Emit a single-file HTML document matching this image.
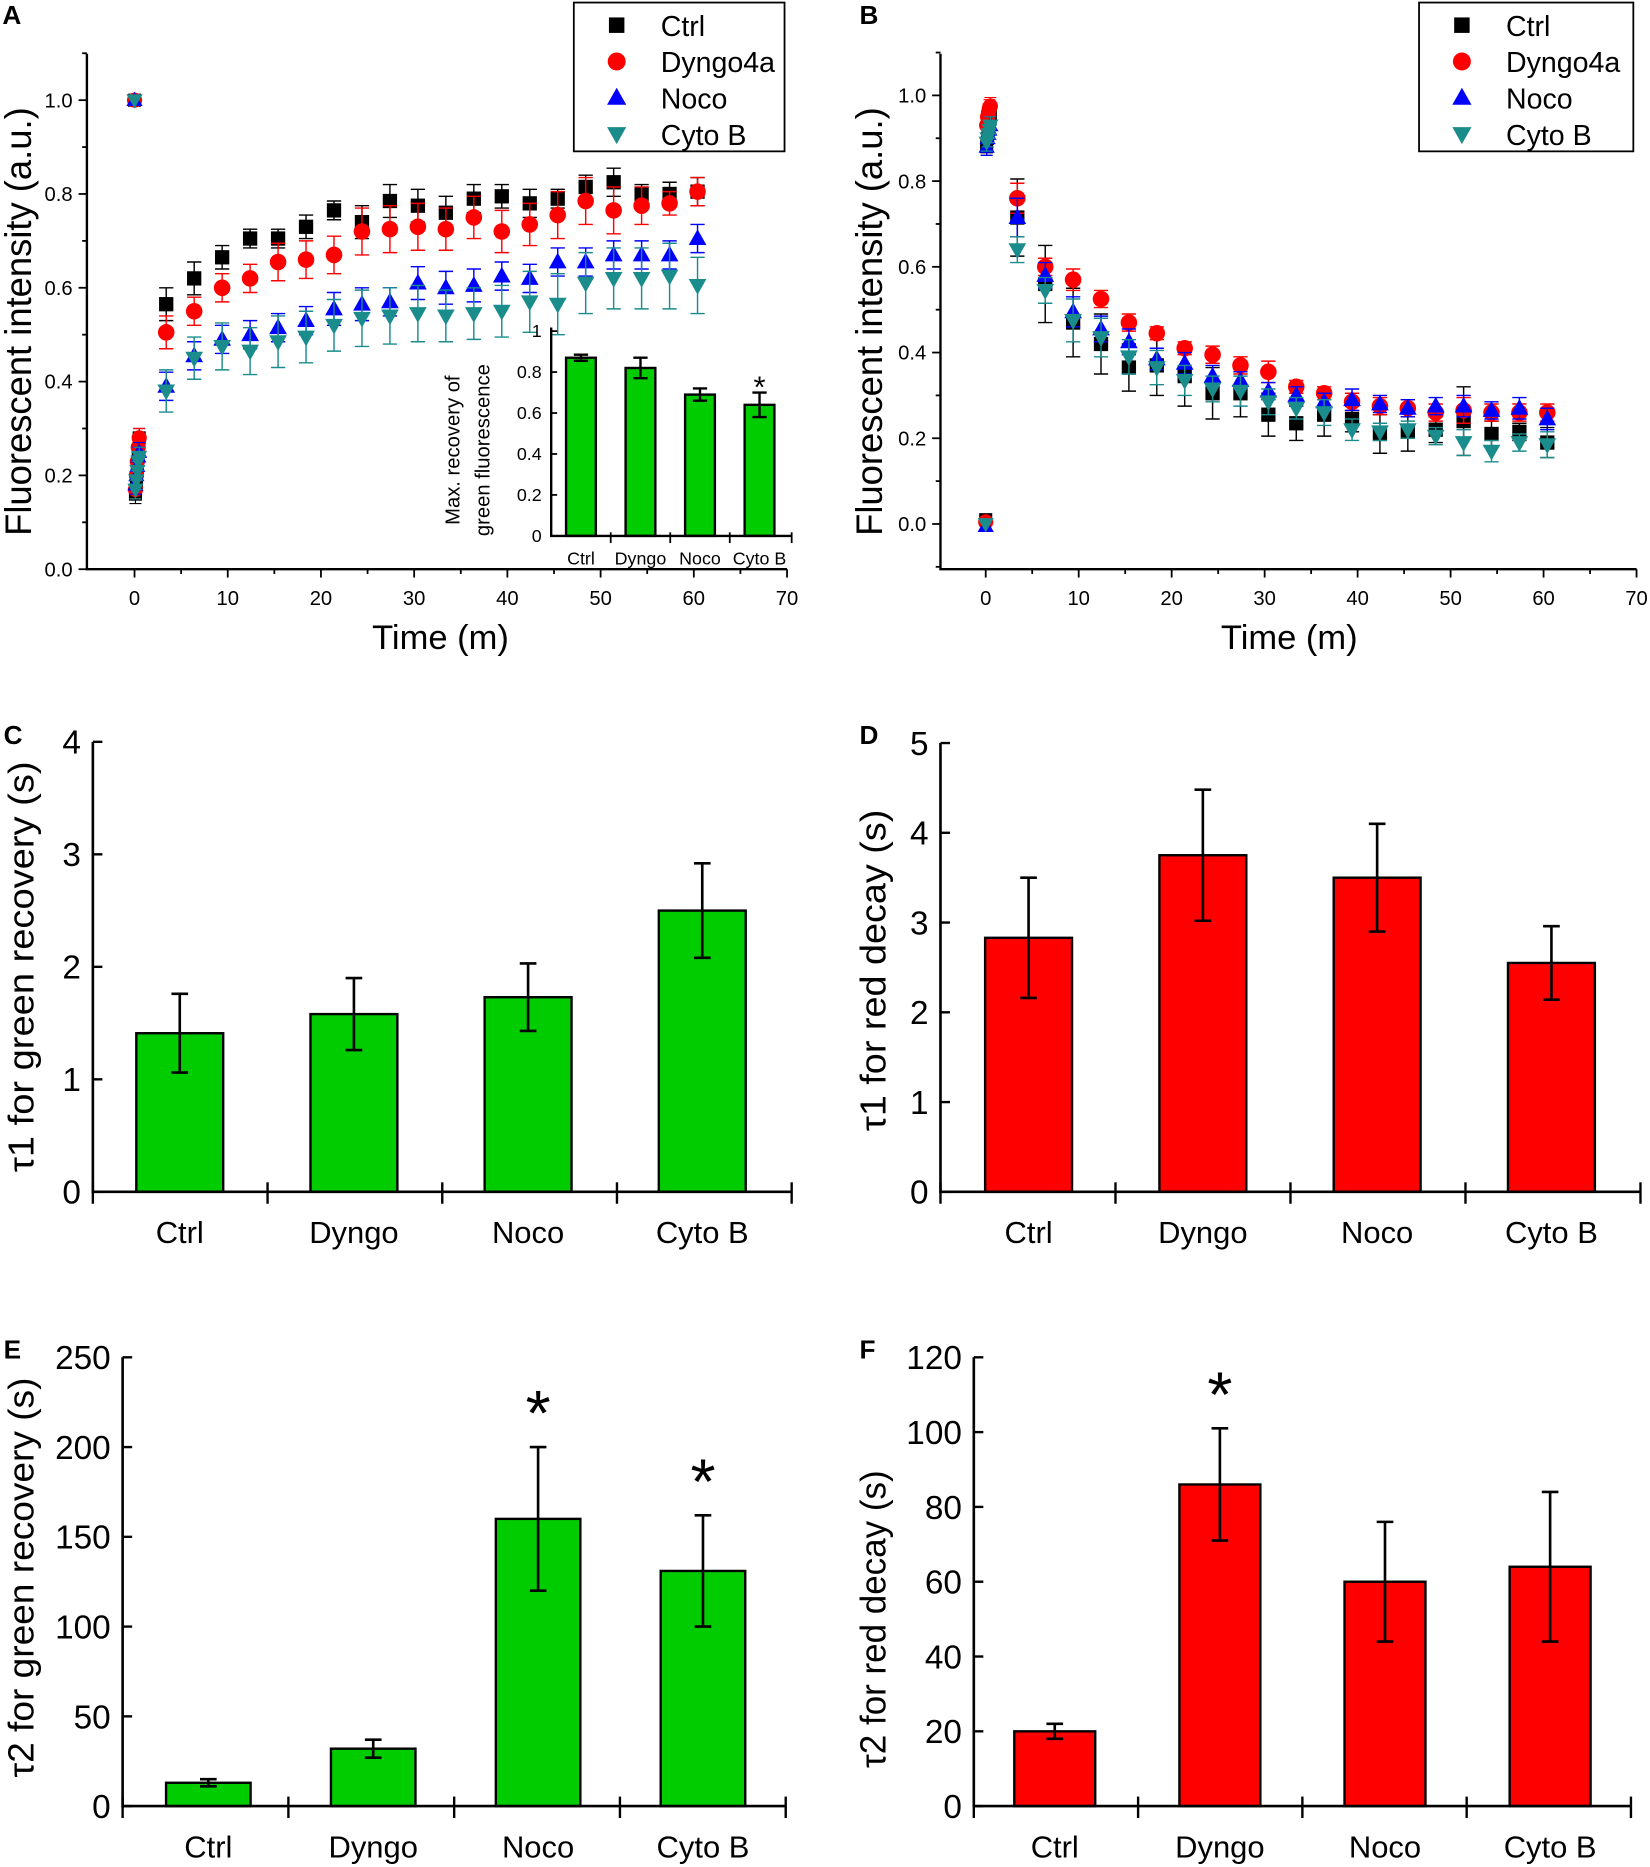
<!DOCTYPE html>
<html><head><meta charset="utf-8"><style>
html,body{margin:0;padding:0;background:#fff;}
svg{display:block;font-family:"Liberation Sans Narrow","Liberation Sans",sans-serif;}
.big{font-family:"Liberation Sans",sans-serif;}
</style></head><body>
<svg id="fig" width="1650" height="1867" viewBox="0 0 1386 1568" xmlns="http://www.w3.org/2000/svg"></svg>
<script>
// ---------- data ----------
const seriesNames = ["Ctrl","Dyngo4a","Noco","Cyto B"];
const timesLate = [3.4,6.4,9.4,12.4,15.4,18.4,21.4,24.4,27.4,30.4,33.4,36.4,39.4,42.4,45.4,48.4,51.4,54.4,57.4,60.4];
const timesEarly = [0.1,0.2,0.3,0.4,0.5];
const aStart = [1.0,1.0,1.0,1.0];
const aEarlyCtrl = [0.16,0.18,0.21,0.24,0.28];
const aEarlyDyngo = [0.17,0.20,0.23,0.26,0.28];
const aEarlyNoco = [0.18,0.20,0.22,0.24,0.25];
const aEarlyCyto = [0.17,0.19,0.21,0.23,0.24];
const aCtrl = [0.565,0.62,0.665,0.705,0.705,0.73,0.765,0.74,0.785,0.775,0.76,0.79,0.795,0.78,0.79,0.815,0.825,0.80,0.80,0.805];
const aDyngo = [0.505,0.55,0.60,0.62,0.655,0.66,0.67,0.72,0.725,0.73,0.725,0.75,0.72,0.735,0.755,0.785,0.765,0.775,0.78,0.805];
const aNoco = [0.39,0.455,0.49,0.50,0.515,0.53,0.555,0.565,0.57,0.61,0.60,0.605,0.625,0.62,0.655,0.655,0.67,0.67,0.67,0.705];
const aCyto = [0.38,0.45,0.475,0.465,0.485,0.495,0.52,0.535,0.54,0.545,0.54,0.545,0.55,0.57,0.565,0.61,0.62,0.62,0.625,0.605];
const aErrCtrl = [0.035,0.035,0.025,0.02,0.02,0.025,0.02,0.035,0.035,0.035,0.035,0.03,0.025,0.03,0.02,0.025,0.03,0.02,0.025,0.03];
const aErrDyngo = [0.035,0.03,0.03,0.03,0.04,0.04,0.04,0.05,0.05,0.05,0.045,0.045,0.045,0.045,0.05,0.05,0.05,0.04,0.025,0.03];
const aErrNoco = [0.03,0.03,0.03,0.03,0.03,0.03,0.035,0.035,0.03,0.035,0.035,0.035,0.03,0.03,0.03,0.03,0.03,0.03,0.03,0.03];
const aErrCyto = [0.045,0.045,0.05,0.05,0.055,0.055,0.055,0.06,0.06,0.06,0.055,0.055,0.055,0.065,0.065,0.065,0.065,0.065,0.07,0.06];
const insetCats = ["Ctrl","Dyngo","Noco","Cyto B"];
const insetVals = [0.87,0.82,0.69,0.64];
const insetErrs = [0.015,0.05,0.03,0.06];
const insetTicks = ["0","0.2","0.4","0.6","0.8","1"];

const bStart = [0.01,0.005,-0.005,0.0];
const bEarlyCtrl = [0.88,0.90,0.92,0.94,0.95];
const bEarlyDyngo = [0.93,0.95,0.96,0.97,0.975];
const bEarlyNoco = [0.88,0.90,0.91,0.92,0.93];
const bEarlyCyto = [0.89,0.90,0.91,0.92,0.93];
const bCtrl = [0.715,0.56,0.47,0.42,0.365,0.37,0.345,0.305,0.305,0.255,0.235,0.255,0.245,0.21,0.215,0.22,0.24,0.21,0.215,0.19];
const bDyngo = [0.76,0.60,0.57,0.525,0.47,0.445,0.41,0.395,0.37,0.355,0.32,0.305,0.285,0.275,0.27,0.26,0.265,0.26,0.26,0.26];
const bNoco = [0.715,0.58,0.495,0.455,0.425,0.385,0.375,0.345,0.335,0.31,0.30,0.285,0.29,0.28,0.27,0.275,0.275,0.265,0.27,0.245];
const bCyto = [0.64,0.545,0.475,0.435,0.39,0.365,0.335,0.315,0.31,0.285,0.27,0.26,0.22,0.215,0.22,0.205,0.19,0.17,0.19,0.185];
const bErrCtrl = [0.09,0.09,0.08,0.07,0.055,0.07,0.07,0.06,0.055,0.05,0.04,0.05,0.03,0.045,0.045,0.03,0.08,0.03,0.02,0.035];
const bErrDyngo = [0.035,0.02,0.025,0.02,0.02,0.015,0.015,0.02,0.02,0.025,0.015,0.015,0.02,0.02,0.02,0.02,0.03,0.02,0.02,0.02];
const bErrNoco = [0.045,0.03,0.035,0.03,0.03,0.025,0.025,0.025,0.02,0.02,0.02,0.02,0.025,0.02,0.02,0.02,0.025,0.02,0.025,0.025];
const bErrCyto = [0.03,0.03,0.05,0.045,0.04,0.04,0.035,0.03,0.035,0.03,0.025,0.03,0.025,0.02,0.02,0.02,0.03,0.025,0.02,0.03];

const barCats = ["Ctrl","Dyngo","Noco","Cyto B"];
const cVals = [1.41,1.58,1.73,2.50];
const cErrs = [0.35,0.32,0.30,0.42];
const cTicks = [0,1,2,3,4];
const dVals = [2.83,3.75,3.50,2.55];
const dErrs = [0.67,0.73,0.60,0.41];
const dTicks = [0,1,2,3,4,5];
const eVals = [13,32,160,131];
const eErrs = [2,5,40,31];
const eStars = [false,false,true,true];
const eTicks = [0,50,100,150,200,250];
const fVals = [20,86,60,64];
const fErrs = [2,15,16,20];
const fStars = [false,true,false,false];
const fTicks = [0,20,40,60,80,100,120];

// ---------- helpers ----------
const NS = "http://www.w3.org/2000/svg";
const svg = document.getElementById('fig');
function mk(tag, attrs, parent){
  const e = document.createElementNS(NS, tag);
  for (const k in attrs) e.setAttribute(k, attrs[k]);
  (parent||svg).appendChild(e);
  return e;
}
function txt(s, attrs, parent){ const e = mk('text', attrs, parent); e.textContent = s; return e; }
const colors = ["#000000","#ff0000","#0000ff","#1a8c8c"];

function marker(g, kind, x, y, color, s){
  let e;
  if (kind===0) e = mk('rect',{x:x-s*0.5,y:y-s*0.5,width:s,height:s,fill:color},g);
  else if (kind===1) e = mk('circle',{cx:x,cy:y,r:s*0.58,fill:color},g);
  else if (kind===2) e = mk('polygon',{points:`${x},${y-s*0.65} ${x-s*0.62},${y+s*0.45} ${x+s*0.62},${y+s*0.45}`,fill:color},g);
  else e = mk('polygon',{points:`${x},${y+s*0.65} ${x-s*0.62},${y-s*0.45} ${x+s*0.62},${y-s*0.45}`,fill:color},g);
  
  
  return e;
}

function scatterPanel(P){
  const g = mk('g',{});
  
  
  const X = t => P.x0 + (t - 0) * P.pxPerX;
  const Y = v => P.y0 - v * P.pxPerY;
  const ax = mk('path',{d:`M${P.axL},${P.top} L${P.axL},${P.axB} L${X(70)},${P.axB}`,fill:'none',stroke:'#000','stroke-width':2},g);
  
  
  for (let t=0;t<=70;t+=5){
    const major = t%10===0;
    mk('line',{x1:X(t),x2:X(t),y1:P.axB,y2:P.axB+(major?7:4),stroke:'#000','stroke-width':1.5},g);
    if (major){
      const l = txt(String(t),{x:X(t),y:P.axB+30,'text-anchor':'middle','font-size':17},g);
      
      
    }
  }
  for (let i=P.yMinTick;i<=11;i++){
    const v = i/10;
    const major = i%2===0 && i>=0 && i<=10;
    mk('line',{x1:P.axL-(major?7:4),x2:P.axL,y1:Y(v),y2:Y(v),stroke:'#000','stroke-width':1.5},g);
    if (major){
      const l = txt(v.toFixed(1),{x:P.axL-12,y:Y(v)+6,'text-anchor':'end','font-size':17},g);
      
      
    }
  }
  const xt = txt('Time (m)',{x:P.xTitleX,y:545,'text-anchor':'middle','font-size':29,class:'big'},g);
  
  
  const yt = txt('Fluorescent intensity (a.u.)',{x:0,y:0,'text-anchor':'middle','font-size':31,class:'big',textLength:360,lengthAdjust:'spacingAndGlyphs',transform:`translate(${P.yTitleX},${P.yTitleY}) rotate(-90)`},g);
  
  
  for (let s=0;s<4;s++){
    const sg = mk('g',{},g);
    
    
    const c = colors[s];
    P.late[s].forEach((v,i)=>{
      const x = X(timesLate[i]), e = P.errs[s][i];
      mk('path',{d:`M${x},${Y(v-e)} L${x},${Y(v+e)} M${x-6},${Y(v-e)} L${x+6},${Y(v-e)} M${x-6},${Y(v+e)} L${x+6},${Y(v+e)}`,stroke:c,'stroke-width':1.2,fill:'none'},sg);
    });
    P.early[s].forEach((v,i)=>{
      const x = X(timesEarly[i]);
      mk('path',{d:`M${x},${Y(v-0.02)} L${x},${Y(v+0.02)} M${x-5},${Y(v-0.02)} L${x+5},${Y(v-0.02)} M${x-5},${Y(v+0.02)} L${x+5},${Y(v+0.02)}`,stroke:c,'stroke-width':1,fill:'none'},sg);
      marker(sg,s,x,Y(v),c,11);
    });
    marker(sg,s,X(0),Y(P.start[s]),c,11);
    P.late[s].forEach((v,i)=>marker(sg,s,X(timesLate[i]),Y(v),c,12));
  }
  const lg = mk('g',{},g);
  
  
  mk('rect',{x:P.legX,y:2,width:P.legW,height:125,fill:'#fff',stroke:'#000','stroke-width':1.5},lg);
  seriesNames.forEach((n,i)=>{
    const yy = 21 + i*30.5;
    marker(lg,i,P.legX+36,yy,colors[i],13);
    const t = txt(n,{x:P.legX+73,y:yy+9,'font-size':24,class:'big'},lg);
    
    
  });
  const pl = txt(P.label,{x:P.labX,y:20,'font-size':22,'font-weight':'bold',class:'big'},g);
  
  
  return g;
}

scatterPanel({name:'panel-a',label:'A',labX:2,x0:113,pxPerX:7.83,y0:478,pxPerY:394,axL:73,axB:478,top:45,yMinTick:0,
  xTitleX:370,yTitleX:26,yTitleY:270,legX:482,legW:177,
  start:aStart,early:[aEarlyCtrl,aEarlyDyngo,aEarlyNoco,aEarlyCyto],late:[aCtrl,aDyngo,aNoco,aCyto],errs:[aErrCtrl,aErrDyngo,aErrNoco,aErrCyto]});
scatterPanel({name:'panel-b',label:'B',labX:722,x0:828,pxPerX:7.81,y0:440,pxPerY:360,axL:790,axB:478,top:45,yMinTick:-1,
  xTitleX:1083,yTitleX:741,yTitleY:270,legX:1192,legW:180,
  start:bStart,early:[bEarlyCtrl,bEarlyDyngo,bEarlyNoco,bEarlyCyto],late:[bCtrl,bDyngo,bNoco,bCyto],errs:[bErrCtrl,bErrDyngo,bErrNoco,bErrCyto]});

// inset bar chart in A
(function(){
  const g = mk('g',{});
  
  
  const axL=463, y0=450, ppu=172, x0=488, step=50, bw=25;
  const Y = v => y0 - v*ppu;
  const X = i => x0 + i*step;
  insetVals.forEach((v,i)=>{
    const b = mk('rect',{x:X(i)-bw/2,y:Y(v),width:bw,height:y0-Y(v),fill:'#00cc00',stroke:'#000','stroke-width':2},g);
    
    
    const e = insetErrs[i], x=X(i);
    mk('path',{d:`M${x},${Y(v-e)} L${x},${Y(v+e)} M${x-6},${Y(v-e)} L${x+6},${Y(v-e)} M${x-6},${Y(v+e)} L${x+6},${Y(v+e)}`,stroke:'#000','stroke-width':2,fill:'none'},g);
    const c = txt(insetCats[i],{x:x,y:474,'text-anchor':'middle','font-size':15},g);
    
    
  });
  mk('path',{d:`M${axL},${Y(1)-3} L${axL},${y0} L665,${y0}`,stroke:'#000','stroke-width':2,fill:'none'},g);
  [513,563,613,665].forEach(x=>mk('line',{x1:x,x2:x,y1:y0-3,y2:y0+6,stroke:'#000','stroke-width':1.5},g));
  insetTicks.forEach(t=>{
    const v = parseFloat(t);
    mk('line',{x1:axL,x2:axL+5,y1:Y(v),y2:Y(v),stroke:'#000','stroke-width':1.5},g);
    const l = txt(t,{x:axL-8,y:Y(v)+5,'text-anchor':'end','font-size':15},g);
    
    
  });
  const s = txt('*',{x:X(3),y:Y(insetVals[3]+insetErrs[3])+4,'text-anchor':'middle','font-size':26,class:'big'},g);
  
  
  const t1 = txt('Max. recovery of',{x:0,y:0,'text-anchor':'middle','font-size':17,class:'big',transform:'translate(386,378) rotate(-90)'},g);
  
  
  const t2 = txt('green fluorescence',{x:0,y:0,'text-anchor':'middle','font-size':17,class:'big',transform:'translate(411,378) rotate(-90)'},g);
  
  
})();

// bar panels
function barPanel(P){
  const g = mk('g',{});
  
  
  const maxT = P.ticks[P.ticks.length-1];
  const Y = v => P.y0 - (v/maxT)*(P.y0-P.top);
  const X = i => P.c0 + i*P.step;
  P.vals.forEach((v,i)=>{
    const b = mk('rect',{x:X(i)-P.bw/2,y:Y(v),width:P.bw,height:P.y0-Y(v),fill:P.color,stroke:'#000','stroke-width':2},g);
    
    
    const e = P.errs[i], x = X(i);
    mk('path',{d:`M${x},${Y(v-e)} L${x},${Y(v+e)} M${x-7},${Y(v-e)} L${x+7},${Y(v-e)} M${x-7},${Y(v+e)} L${x+7},${Y(v+e)}`,stroke:'#000','stroke-width':2.2,fill:'none'},g);
    const c = txt(barCats[i],{x:x,y:P.y0+43,'text-anchor':'middle','font-size':26},g);
    
    
    if (P.stars && P.stars[i]){
      const s = txt('*',{x:x,y:Y(v+e)-P.starGap,'text-anchor':'middle','font-size':54,class:'big'},g);
      
      
    }
  });
  const ax = mk('path',{d:`M${P.axL},${P.top} L${P.axL},${P.y0} L${P.axR},${P.y0}`,stroke:'#000','stroke-width':2.2,fill:'none'},g);
  
  
  for (let i=0;i<=4;i++){
    const x = P.axL + i*(P.axR-P.axL)/4;
    mk('line',{x1:x,x2:x,y1:P.y0-8,y2:P.y0+10,stroke:'#000','stroke-width':2},g);
  }
  P.ticks.forEach(t=>{
    mk('line',{x1:P.axL,x2:P.axL+8,y1:Y(t),y2:Y(t),stroke:'#000','stroke-width':2},g);
    const l = txt(String(t),{x:P.axL-10,y:Y(t)+10,'text-anchor':'end','font-size':28},g);
    
    
  });
  const yt = txt(P.ytitle,{x:0,y:0,'text-anchor':'middle','font-size':30,class:'big',textLength:P.ylen,lengthAdjust:'spacingAndGlyphs',transform:`translate(${P.ytx},${P.yty}) rotate(-90)`},g);
  
  
  const pl = txt(P.label,{x:P.labX,y:P.labY,'font-size':22,'font-weight':'bold',class:'big'},g);
  
  
}
barPanel({name:'panel-c',label:'C',labX:3,labY:625,color:'#00cc00',vals:cVals,errs:cErrs,ticks:cTicks,top:623,y0:1001,axL:78,axR:665,c0:151,step:146.3,bw:73,ytitle:'τ1 for green recovery (s)',ytx:28,yty:812,ylen:345});
barPanel({name:'panel-d',label:'D',labX:722,labY:625,color:'#ff0000',vals:dVals,errs:dErrs,ticks:dTicks,top:624,y0:1001,axL:790,axR:1378,c0:864,step:146.4,bw:73,ytitle:'τ1 for red decay (s)',ytx:744,yty:815,ylen:270});
barPanel({name:'panel-e',label:'E',labX:3,labY:1141,color:'#00cc00',vals:eVals,errs:eErrs,stars:eStars,starGap:10,ticks:eTicks,top:1140,y0:1517,axL:103,axR:660,c0:175,step:138.5,bw:71,ytitle:'τ2 for green recovery (s)',ytx:28,yty:1325,ylen:336});
barPanel({name:'panel-f',label:'F',labX:722,labY:1141,color:'#ff0000',vals:fVals,errs:fErrs,stars:fStars,starGap:10,ticks:fTicks,top:1140,y0:1517,axL:818,axR:1370,c0:886,step:138.7,bw:68,ytitle:'τ2 for red decay (s)',ytx:744,yty:1360,ylen:250});
</script>
</body></html>
